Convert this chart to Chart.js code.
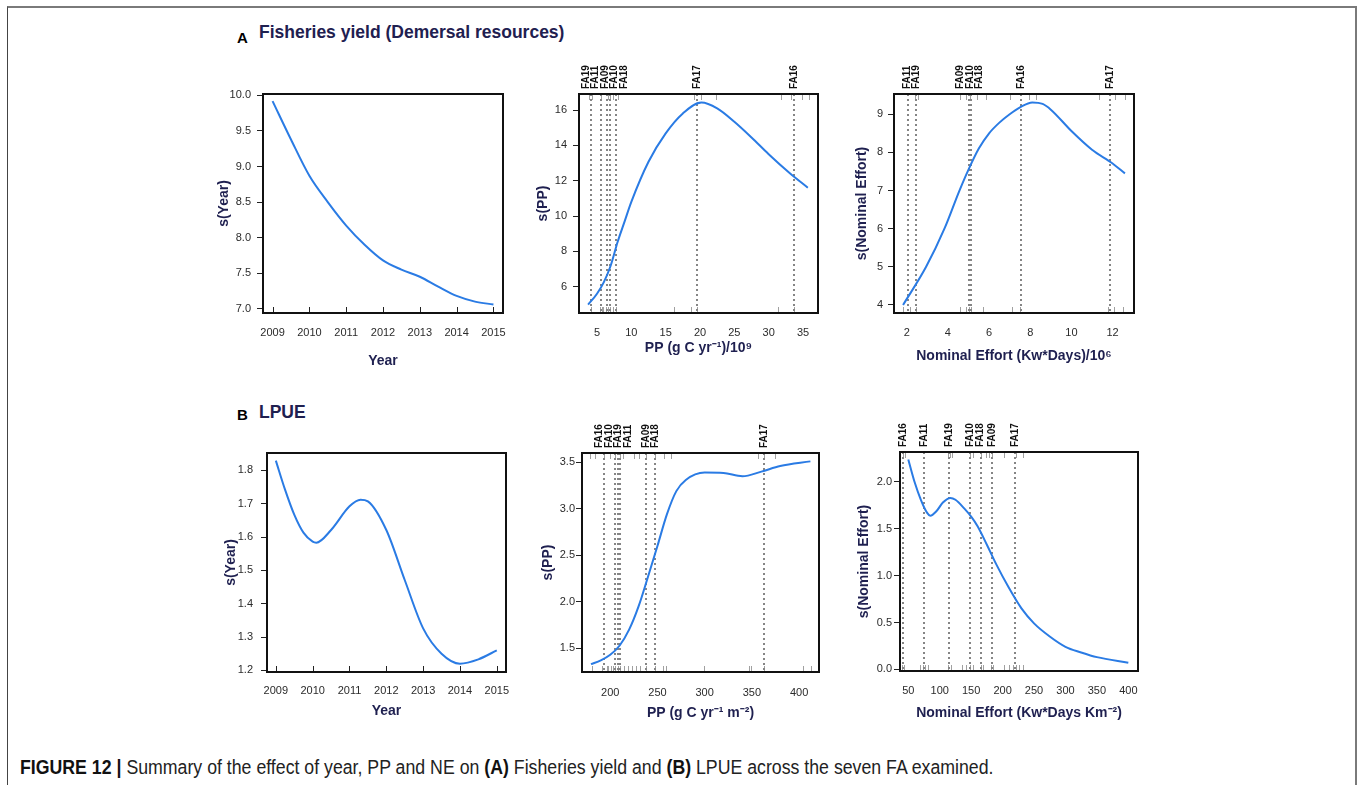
<!DOCTYPE html>
<html>
<head>
<meta charset="utf-8">
<script src="https://cdn.jsdelivr.net/npm/chart.js@4.4.1/dist/chart.umd.min.js"></script>
<style>
  body { margin: 0; width: 1360px; height: 785px; overflow: hidden; position: relative; background: #fff;
         font-family: "Liberation Sans", Arial, sans-serif; }
  .frame { position: absolute; left: 7px; top: 6px; width: 1350px; height: 800px; box-sizing: border-box;
           border-top: 2px solid #7a7a7a; border-left: 1px solid #444; border-right: 2px solid #7a7a7a; }
  .panel { position: absolute; }
  .letter { position: absolute; font-weight: bold; font-size: 15px; color: #000; line-height: 1; }
  .sect { position: absolute; font-weight: bold; font-size: 17.5px; color: #1f2050; line-height: 1; }
  .caption { position: absolute; left: 20px; top: 757px; font-size: 20px; color: #222; white-space: nowrap;
             line-height: 1; transform: scaleX(0.886); transform-origin: 0 0; }
  .caption b { color: #111; }
</style>
</head>
<body>
<div class="frame"></div>

<div class="letter" style="left:237px;top:30px">A</div>
<div class="sect" style="left:259px;top:24px">Fisheries yield (Demersal resources)</div>
<div class="letter" style="left:237px;top:407px">B</div>
<div class="sect" style="left:259px;top:404px">LPUE</div>

<canvas id="a1" class="panel"></canvas>
<canvas id="a2" class="panel"></canvas>
<canvas id="a3" class="panel"></canvas>
<canvas id="b1" class="panel"></canvas>
<canvas id="b2" class="panel"></canvas>
<canvas id="b3" class="panel"></canvas>

<div class="caption"><b>FIGURE 12</b> <b>|</b> Summary of the effect of year, PP and NE on <b>(A)</b> Fisheries yield and <b>(B)</b> LPUE across the seven FA examined.</div>

<script>
// ---- A: fisheries yield ----
const yearA = [2009, 2009.5, 2010, 2010.5, 2011, 2011.5, 2012, 2012.5, 2013, 2013.5, 2014, 2014.5, 2015];
const sYearA = [9.92, 9.38, 8.87, 8.50, 8.17, 7.90, 7.68, 7.55, 7.45, 7.31, 7.18, 7.10, 7.06];

const ppA = [3.7, 5, 6, 7, 8, 9, 10, 12.5, 15, 17.5, 20.2, 22.5, 25, 27.5, 30, 33, 35.7];
const sPPA = [4.98, 5.6, 6.26, 7.2, 8.53, 9.67, 10.8, 13.07, 14.68, 15.81, 16.43, 16.1, 15.34, 14.45, 13.5, 12.45, 11.6];

const neA = [1.82, 2.94, 3.83, 4.56, 5.0, 5.5, 6, 6.5, 7, 7.5, 8.1, 8.6, 9, 10, 11, 12, 12.6];
const sNEA = [4.0, 5.0, 6.0, 7.0, 7.55, 8.1, 8.5, 8.78, 9.0, 9.18, 9.31, 9.27, 9.12, 8.56, 8.07, 7.71, 7.45];

// ---- B: LPUE ----
const yearB = [2009, 2009.25, 2009.5, 2009.75, 2010, 2010.1, 2010.5, 2011, 2011.3, 2011.5, 2012, 2012.5, 2013, 2013.5, 2014, 2014.5, 2015];
const sYearB = [1.829, 1.742, 1.667, 1.613, 1.586, 1.583, 1.621, 1.692, 1.712, 1.707, 1.621, 1.471, 1.326, 1.25, 1.22, 1.233, 1.26];

const ppB = [179.6, 190, 200, 210, 220, 230, 240, 250, 260, 270, 280, 300, 320, 340, 360, 380, 412];
const sPPB = [1.33, 1.37, 1.43, 1.53, 1.70, 1.95, 2.27, 2.60, 2.94, 3.19, 3.31, 3.39, 3.385, 3.35, 3.40, 3.46, 3.51];

const neB = [50, 60, 70, 80, 85, 95, 105, 117, 125, 140, 150, 160, 175, 190, 210, 230, 250, 275, 300, 325, 350, 400];
const sNEB = [2.24, 2.0, 1.81, 1.67, 1.64, 1.69, 1.78, 1.83, 1.81, 1.71, 1.63, 1.53, 1.33, 1.12, 0.87, 0.65, 0.49, 0.35, 0.24, 0.18, 0.13, 0.07];

// ---- tick labels ----
const yearTicks = [2009, 2010, 2011, 2012, 2013, 2014, 2015];
const sYearATicks = [7.0, 7.5, 8.0, 8.5, 9.0, 9.5, 10.0];
const ppATicks = [5, 10, 15, 20, 25, 30, 35];
const sPPATicks = [6, 8, 10, 12, 14, 16];
const neATicks = [2, 4, 6, 8, 10, 12];
const sNEATicks = [4, 5, 6, 7, 8, 9];
const sYearBTicks = [1.2, 1.3, 1.4, 1.5, 1.6, 1.7, 1.8];
const ppBTicks = [200, 250, 300, 350, 400];
const sPPBTicks = [1.5, 2.0, 2.5, 3.0, 3.5];
const neBTicks = [50, 100, 150, 200, 250, 300, 350, 400];
const sNEBTicks = [0.0, 0.5, 1.0, 1.5, 2.0];

// ---- fishing areas (dotted lines) ----
const faNamesA2 = ["FA19", "FA11", "FA09", "FA10", "FA18", "FA17", "FA16"];
const faPosA2 = [4.17, 5.53, 6.41, 6.84, 7.72, 19.61, 33.69];
const faNamesA3 = ["FA11", "FA19", "FA09", "FA10", "FA18", "FA16", "FA17"];
const faPosA3 = [2.06, 2.44, 5.03, 5.08, 5.13, 7.55, 11.87];
const faNamesB2 = ["FA16", "FA10", "FA19", "FA11", "FA09", "FA18", "FA17"];
const faPosB2 = [193, 204.6, 207.7, 210.6, 238, 247.5, 363];
const faNamesB3 = ["FA16", "FA11", "FA19", "FA10", "FA18", "FA09", "FA17"];
const faPosB3 = [42.1, 75.4, 115.1, 148, 165, 183, 219.5];

// ---- rugs ----
const rugA2Bottom = [4.2, 5.4, 5.7, 5.9, 6.3, 6.6, 6.9, 7.4, 7.7, 16.2, 18.7, 19.6, 31.4, 33.7];
const rugA2Top = [3.9, 4.3, 5.6, 6.6, 6.9, 7.4, 8.1, 19.1, 20.2, 22.3, 31.8, 33.3, 34.8, 35.9];
const rugA3Bottom = [1.82, 2.18, 2.47, 4.58, 4.87, 5.03, 5.13, 5.71, 7.09, 7.5, 11.8, 12.07, 12.5];
const rugA3Top = [2.39, 2.55, 4.58, 4.87, 5.06, 5.42, 5.84, 7.0, 7.95, 8.3, 11.35, 12.1, 12.6];
const rugB2Bottom = [180.6, 191, 196.5, 198, 200.7, 202.8, 205, 207.7, 210.6, 214.8, 218.3, 222.9, 227.5, 231.7, 238, 247.5, 256.3, 258.8, 299.3, 347.2, 349.6, 363, 404.2, 413];
const rugB2Top = [178.9, 184, 193, 200, 205.3, 210.6, 214, 225.4, 230, 238, 247.5, 257, 264, 356.7, 363, 374.3];
const rugB3Bottom = [39.4, 43.1, 68.5, 72.8, 76.5, 81.8, 113.6, 117.3, 134.7, 141.6, 148, 152.2, 165, 169.2, 180.8, 185, 202, 210.5, 216.8, 222, 226.3, 231.7];
const rugB3Top = [41, 44.7, 113.6, 116.2, 118.9, 148, 153.3, 165, 173.4, 178.7, 182.4, 202, 222, 231.7];

const NAVY = '#1f2050';
const BLUE = '#2a7be4';

// push overlapping labels apart, keeping each crowded group centred
function spread(p, gap) {
  const idx = p.map((v, i) => i).sort((i, j) => p[i] - p[j]);
  const out = p.slice();
  for (let it = 0; it < 300; it++) {
    let moved = false;
    for (let k = 1; k < idx.length; k++) {
      const i = idx[k - 1], j = idx[k];
      const d = out[j] - out[i];
      if (d < gap - 0.01) { const s = (gap - d) / 2; out[i] -= s; out[j] += s; moved = true; }
    }
    if (!moved) break;
  }
  return out;
}

const gamDecor = {
  id: 'gamDecor',
  beforeDatasetsDraw(chart, args, o) {
    const { ctx, chartArea: a, scales: { x } } = chart;
    ctx.save();
    ctx.lineWidth = 1;
    ctx.strokeStyle = o.rugColor;
    (o.rugBottom || []).forEach(v => {
      const px = Math.round(x.getPixelForValue(v)) + 0.5;
      ctx.beginPath(); ctx.moveTo(px, a.bottom); ctx.lineTo(px, a.bottom - 6); ctx.stroke();
    });
    (o.rugTop || []).forEach(v => {
      const px = Math.round(x.getPixelForValue(v)) + 0.5;
      ctx.beginPath(); ctx.moveTo(px, a.top); ctx.lineTo(px, a.top + 6); ctx.stroke();
    });
    ctx.strokeStyle = '#858585';
    ctx.lineWidth = 2;
    ctx.setLineDash([2, 3]);
    (o.faPos || []).forEach(v => {
      const px = Math.round(x.getPixelForValue(v));
      ctx.beginPath(); ctx.moveTo(px, a.top); ctx.lineTo(px, a.bottom); ctx.stroke();
    });
    ctx.restore();
  },
  afterDraw(chart, args, o) {
    const { ctx, chartArea: a, scales: { x } } = chart;
    ctx.save();
    ctx.strokeStyle = '#111';
    ctx.lineWidth = 2;
    ctx.strokeRect(a.left, a.top, a.right - a.left, a.bottom - a.top);
    if (o.faNames) {
      const pos = spread(o.faPos.map(v => x.getPixelForValue(v)), 9.5);
      ctx.font = 'bold 10px "Liberation Sans", Arial, sans-serif';
      ctx.fillStyle = '#111';
      ctx.textAlign = 'left';
      ctx.textBaseline = 'middle';
      o.faNames.forEach((name, i) => {
        ctx.save();
        ctx.translate(pos[i], a.top - 5);
        ctx.rotate(-Math.PI / 2);
        ctx.fillText(name, 0, 0);
        ctx.restore();
      });
    }
    ctx.restore();
  }
};

const panels = [
  { id: 'a1', box: [263, 94, 503, 313], xs: yearA, ys: sYearA, xr: [2008.74, 2015.26], yr: [6.94, 10.02],
    xt: yearTicks, yt: sYearATicks, xd: 0, yd: 1, xTitle: 'Year', yTitle: 's(Year)',
    xPad: 13, yPad: 6, xTitlePad: 13.6, yTitlePad: 22.6, rugBottom: yearTicks, rugColor: '#222' },
  { id: 'a2', box: [579, 94, 818, 313], xs: ppA, ys: sPPA, xr: [2.38, 37.18], yr: [4.51, 16.91],
    xt: ppATicks, yt: sPPATicks, xd: 0, yd: 0, xTitle: 'PP (g C yr\u207B\u00B9)/10\u2079', yTitle: 's(PP)',
    xPad: 13, yPad: 6, xTitlePad: 26.6, yTitlePad: 25.6, faNames: faNamesA2, faPos: faPosA2,
    rugBottom: rugA2Bottom, rugTop: rugA2Top, rugColor: '#a0a0a0' },
  { id: 'a3', box: [894, 94, 1134, 313], xs: neA, ys: sNEA, xr: [1.38, 13.04], yr: [3.79, 9.53],
    xt: neATicks, yt: sNEATicks, xd: 0, yd: 0, xTitle: 'Nominal Effort (Kw*Days)/10\u2076', yTitle: 's(Nominal Effort)',
    xPad: 13, yPad: 5, xTitlePad: 18.6, yTitlePad: 29.6, faNames: faNamesA3, faPos: faPosA3,
    rugBottom: rugA3Bottom, rugTop: rugA3Top, rugColor: '#a0a0a0' },
  { id: 'b1', box: [267, 453, 506, 672], xs: yearB, ys: sYearB, xr: [2008.76, 2015.25], yr: [1.195, 1.852],
    xt: yearTicks, yt: sYearBTicks, xd: 0, yd: 1, xTitle: 'Year', yTitle: 's(Year)',
    xPad: 12, yPad: 8, xTitlePad: 22, yTitlePad: 25.6, rugBottom: yearTicks, rugColor: '#222' },
  { id: 'b2', box: [582, 453, 819, 672], xs: ppB, ys: sPPB, xr: [170.1, 421.1], yr: [1.245, 3.60],
    xt: ppBTicks, yt: sPPBTicks, xd: 0, yd: 1, xTitle: 'PP (g C yr\u207B\u00B9 m\u207B\u00B2)', yTitle: 's(PP)',
    xPad: 14, yPad: 1, xTitlePad: 20.6, yTitlePad: 27.6, faNames: faNamesB2, faPos: faPosB2,
    rugBottom: rugB2Bottom, rugTop: rugB2Top, rugColor: '#a0a0a0' },
  { id: 'b3', box: [900, 452, 1138, 671], xs: neB, ys: sNEB, xr: [36.8, 415.4], yr: [-0.018, 2.32],
    xt: neBTicks, yt: sNEBTicks, xd: 0, yd: 1, xTitle: 'Nominal Effort (Kw*Days Km\u207B\u00B2)', yTitle: 's(Nominal Effort)',
    xPad: 13, yPad: 2, xTitlePad: 19.6, yTitlePad: 25.6, faNames: faNamesB3, faPos: faPosB3,
    rugBottom: rugB3Bottom, rugTop: rugB3Top, rugColor: '#a0a0a0' }
];

const LEFT = 70, TOP = 50, RIGHT = 20, BOTTOM = 70;

panels.forEach(p => {
  const [l, t, r, b] = p.box;
  const cv = document.getElementById(p.id);
  cv.width = r - l + LEFT + RIGHT;
  cv.height = b - t + TOP + BOTTOM;
  cv.style.left = (l - LEFT) + 'px';
  cv.style.top = (t - TOP) + 'px';

  new Chart(cv, {
    type: 'line',
    data: {
      datasets: [{
        data: p.xs.map((x, i) => ({ x: x, y: p.ys[i] })),
        borderColor: BLUE,
        borderWidth: 2,
        pointRadius: 0,
        cubicInterpolationMode: 'monotone',
        fill: false
      }]
    },
    options: {
      responsive: false,
      animation: false,
      events: [],
      layout: { padding: { left: 0, top: TOP, right: RIGHT, bottom: 0 } },
      plugins: {
        legend: { display: false },
        tooltip: { enabled: false },
        gamDecor: { faNames: p.faNames, faPos: p.faPos, rugBottom: p.rugBottom, rugTop: p.rugTop, rugColor: p.rugColor }
      },
      scales: {
        x: {
          type: 'linear',
          min: p.xr[0], max: p.xr[1],
          afterBuildTicks: s => { s.ticks = p.xt.map(v => ({ value: v })); },
          afterFit: s => { s.height = BOTTOM; s.paddingLeft = 0; s.paddingRight = 0; },
          grid: { display: false, drawTicks: false },
          border: { display: false },
          ticks: { color: '#2b2b2b', font: { size: 11 }, padding: p.xPad, maxRotation: 0, autoSkip: false,
                   callback: v => v.toFixed(p.xd) },
          title: { display: true, text: p.xTitle, color: NAVY, font: { size: 14, weight: 'bold' },
                   padding: { top: 0, bottom: p.xTitlePad } }
        },
        y: {
          type: 'linear',
          min: p.yr[0], max: p.yr[1],
          afterBuildTicks: s => { s.ticks = p.yt.map(v => ({ value: v })); },
          afterFit: s => { s.width = LEFT; s.paddingTop = 0; s.paddingBottom = 0; },
          grid: { drawOnChartArea: false, drawTicks: true, tickLength: 6, color: '#222', lineWidth: 1 },
          border: { display: false },
          ticks: { color: '#2b2b2b', font: { size: 11 }, padding: p.yPad, autoSkip: false,
                   callback: v => v.toFixed(p.yd) },
          title: { display: true, text: p.yTitle, color: NAVY, font: { size: 14, weight: 'bold' },
                   padding: { top: p.yTitlePad, bottom: 0 } }
        }
      }
    },
    plugins: [gamDecor]
  });
});
</script>
</body>
</html>
